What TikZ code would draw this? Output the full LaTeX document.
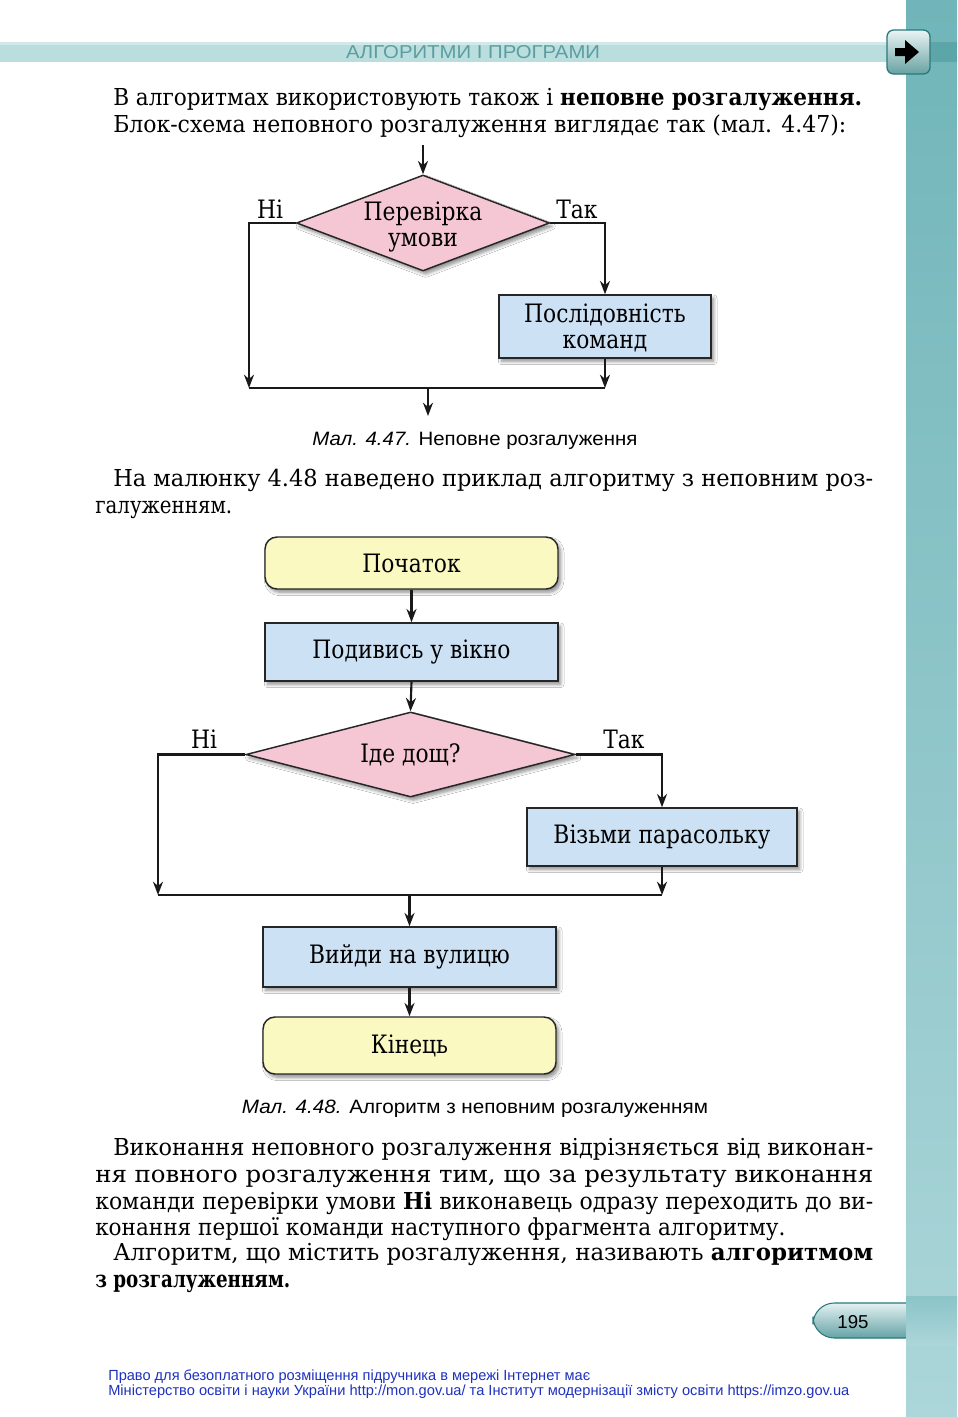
\documentclass[tikz,border=0pt]{standalone}
\usepackage{graphicx}
\usepackage{fontspec}
\setmainfont{DejaVu Serif}
\setsansfont{Liberation Sans}
\usetikzlibrary{shapes.geometric,arrows.meta,shadows.blur}
\definecolor{boxblue}{RGB}{205,225,244}
\definecolor{boxpink}{RGB}{245,199,213}
\definecolor{boxyellow}{RGB}{251,249,194}
\definecolor{sidetop}{RGB}{112,181,185}
\definecolor{sidebot}{RGB}{172,214,217}
\definecolor{bandc}{RGB}{186,222,222}
\definecolor{banddark}{RGB}{92,166,169}
\definecolor{headtext}{RGB}{92,158,160}
\definecolor{footblue}{RGB}{30,50,190}
\definecolor{edgeteal}{RGB}{40,122,122}
\newdimen\pxu \pxu=0.75pt
\newcommand\bodyfont{\fontsize{17.5pt}{20pt}\selectfont}
\newcommand\cnd[1]{\scalebox{0.86}[1]{#1}}
\newcommand\fitline[4]{\node[anchor=base west,inner sep=0pt] at (#1,#2) {\bodyfont\resizebox{#3\pxu}{\height}{#4}};}
\newcommand\natline[3]{\node[anchor=base west,inner sep=0pt] at (#1,#2) {\bodyfont #3};}
\begin{document}
\begin{tikzpicture}[x=0.75pt,y=-0.75pt,
  shadowed/.style={blur shadow={shadow xshift=2pt,shadow yshift=-2.5pt,shadow opacity=45,shadow blur steps=6,shadow blur radius=2.5pt}},
  proc/.style={draw=black!85,line width=1.1pt,fill=boxblue,shadowed,inner sep=0pt,font=\fontsize{19pt}{21pt}\selectfont,align=center},
  term/.style={proc,fill=boxyellow,rounded corners=9pt},
  dec/.style={diamond,draw=black!85,line width=1.1pt,fill=boxpink,shadowed,inner sep=0pt},
  dectext/.style={font=\fontsize{19pt}{21pt}\selectfont,align=center,inner sep=0pt},
  conn/.style={line width=1.6pt,draw=black!90},
  arr/.style={conn,-{Stealth[length=10pt,width=7.5pt]}},
  lab/.style={font=\fontsize{19pt}{21pt}\selectfont,anchor=base,inner sep=0pt},
  captext/.style={anchor=base,inner sep=0pt,font=\sffamily\fontsize{14.5pt}{16pt}\selectfont}
]
\useasboundingbox (0,0) rectangle (957,1417);
\fill[white] (0,0) rectangle (957,1417);
% header band
\fill[bandc] (0,42) rectangle (906,62);
\fill[white,opacity=0.35] (0,42) rectangle (906,45);
% sidebar
\shade[top color=sidetop,bottom color=sidebot] (906,0) rectangle (957,1417);
\fill[banddark] (906,42) rectangle (957,62);
% arrow button
\draw[edgeteal,line width=1pt,rounded corners=5pt,top color=white!85!sidetop,bottom color=edgeteal!70!white] (887,30) rectangle (930,74);
\fill[black] (895,48) -- (905,48) -- (905,40) -- (919,52) -- (905,64) -- (905,56) -- (895,56) -- cycle;
\node[anchor=base,inner sep=0pt,text=headtext] (head) at (473,58) {\sffamily\fontsize{14pt}{15pt}\selectfont\resizebox{254\pxu}{\height}{АЛГОРИТМИ І ПРОГРАМИ}};

% paragraph 1
\natline{113}{105}{\resizebox{749\pxu}{\height}{В алгоритмах використовують також і \textbf{неповне розгалуження.}}}
\natline{113}{132}{\resizebox{733\pxu}{\height}{Блок-схема неповного розгалуження виглядає так (мал. 4.47):}}

% diagram 1
\node[dec,minimum width=189.75pt,minimum height=72pt] (d1) at (423,223) {};
\node[lab] (d1a) at (423,220) {\cnd{Перевірка}};
\node[lab] (d1b) at (423,246) {\cnd{умови}};
\node[proc,minimum width=159pt,minimum height=47.25pt] (b1) at (605,326.5) {};
\node[lab] (b1a) at (605,322) {\cnd{Послідовність}};
\node[lab] (b1b) at (605,348) {\cnd{команд}};
\node[lab] (no1) at (270,218) {\cnd{Ні}};
\node[lab] (yes1) at (577,218) {\cnd{Так}};
\coordinate (in1) at (423,145);
\coordinate (l1) at (249,388);
\coordinate (r1) at (605,388);
\coordinate (m1) at (428,388);
\coordinate (o1) at (428,416);
\draw[arr] (in1) -- (d1.north);
\draw[arr] (d1.west) -| (l1);
\draw[arr] (d1.east) -| (b1.north);
\draw[arr] (b1.south) -- (r1);
\draw[conn] (l1) -- (r1);
\draw[arr] (m1) -- (o1);
\node[captext] (c1) at (475,445) {\resizebox{325\pxu}{\height}{\textit{Мал. 4.47.} Неповне розгалуження}};

% paragraph 2
\fitline{113}{486}{760}{На малюнку 4.48 наведено приклад алгоритму з неповним роз-}
\natline{95}{513}{\resizebox{137\pxu}{\height}{галуженням.}}

% diagram 2
\node[term,minimum width=219.75pt,minimum height=39pt] (s) at (411.5,563) {\cnd{Початок}};
\node[proc,minimum width=219.75pt,minimum height=43.5pt] (look) at (411.5,652) {\cnd{Подивись у вікно}};
\node[dec,minimum width=246.75pt,minimum height=63.75pt] (d2) at (410.5,754.5) {};
\node[dectext] (d2t) at (410.5,754.5) {\cnd{Іде дощ?}};
\node[proc,minimum width=202.5pt,minimum height=43.5pt] (umb) at (662,837) {\cnd{Візьми парасольку}};
\node[proc,minimum width=219.75pt,minimum height=45pt] (go) at (409.5,957) {\cnd{Вийди на вулицю}};
\node[term,minimum width=219.75pt,minimum height=42.75pt] (e) at (409.5,1045.5) {\cnd{Кінець}};
\node[lab] (no2) at (204,748) {\cnd{Ні}};
\node[lab] (yes2) at (624,748) {\cnd{Так}};
\coordinate (l2) at (158,895);
\coordinate (r2) at (662,895);
\coordinate (m2) at (409.5,895);
\draw[arr] (s.south) -- (look.north);
\draw[arr] (look.south) -- (d2.north);
\draw[arr] (d2.west) -| (l2);
\draw[arr] (d2.east) -| (umb.north);
\draw[arr] (umb.south) -- (r2);
\draw[conn] (l2) -- (r2);
\draw[arr] (m2) -- (go.north);
\draw[arr] (go.south) -- (e.north);
\node[captext] (c2) at (475,1113) {\resizebox{466\pxu}{\height}{\textit{Мал. 4.48.} Алгоритм з неповним розгалуженням}};

% paragraph 3
\fitline{113}{1155}{760}{Виконання неповного розгалуження відрізняється від виконан-}
\fitline{95}{1182}{778}{ня повного розгалуження тим, що за результату виконання}
\fitline{95}{1209}{778}{команди перевірки умови \textbf{Ні} виконавець одразу переходить до ви-}
\natline{95}{1235}{\resizebox{690\pxu}{\height}{конання першої команди наступного фрагмента алгоритму.}}
\fitline{113}{1260}{760}{Алгоритм, що містить розгалуження, називають \textbf{алгоритмом}}
\natline{95}{1287}{\resizebox{195\pxu}{\height}{\textbf{з розгалуженням.}}}

% page number tab
\draw[edgeteal,line width=0.8pt,rounded corners=16pt,top color=white!80!sidetop,bottom color=sidetop!90!black] (920,1303) -- (813,1303) -- (813,1338) -- (920,1338);
\shade[top color=sidetop!55!sidebot,bottom color=sidebot] (906,1296) rectangle (957,1345);
\node[anchor=base,inner sep=0pt] (pg) at (853,1328) {\sffamily\fontsize{14pt}{16pt}\selectfont 195};

% footer
\node[anchor=base west,inner sep=0pt,text=footblue] (f1) at (108,1380) {\sffamily\fontsize{11pt}{12pt}\selectfont\resizebox{482\pxu}{\height}{Право для безоплатного розміщення підручника в мережі Інтернет має}};
\node[anchor=base west,inner sep=0pt,text=footblue] (f2) at (108,1395) {\sffamily\fontsize{11pt}{12pt}\selectfont\resizebox{741\pxu}{\height}{Міністерство освіти і науки України http://mon.gov.ua/ та Інститут модернізації змісту освіти https://imzo.gov.ua}};
\end{tikzpicture}
\end{document}
